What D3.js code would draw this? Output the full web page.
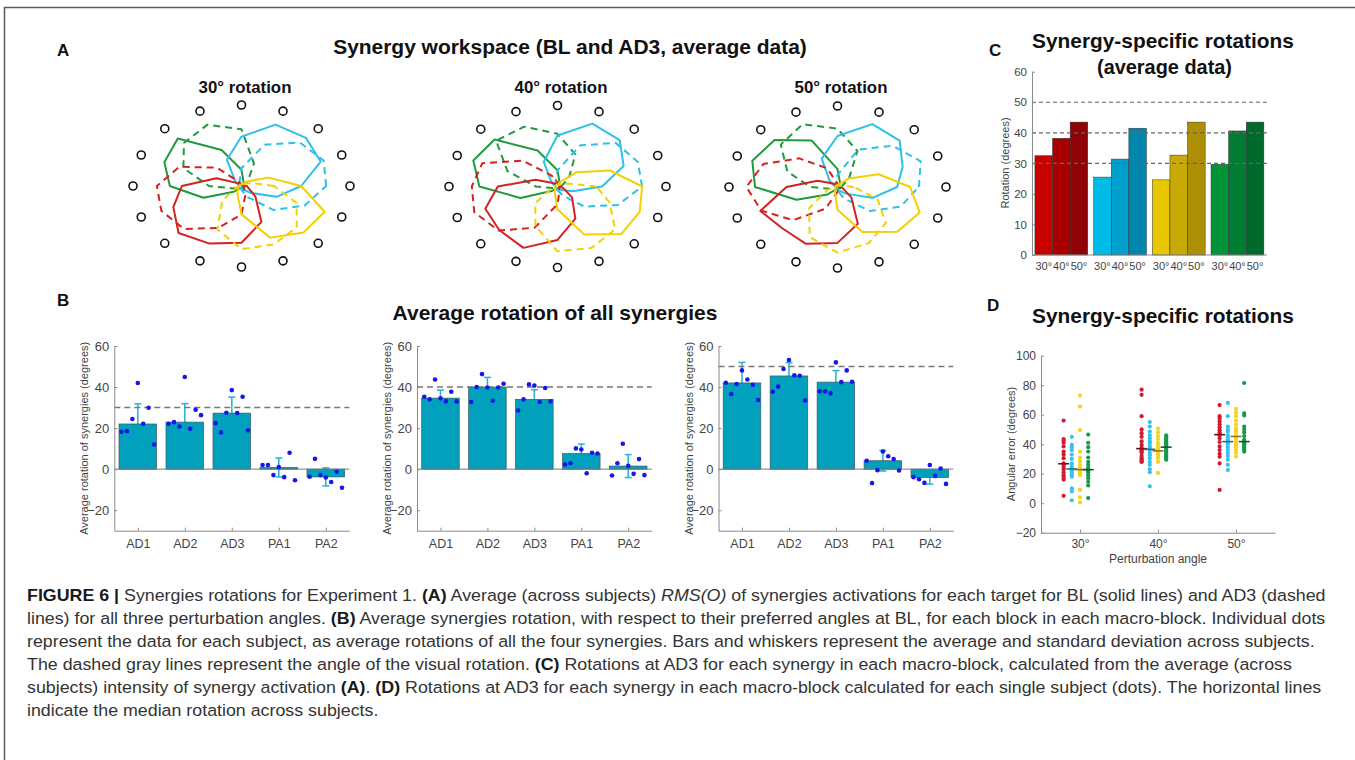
<!DOCTYPE html>
<html><head><meta charset="utf-8">
<script src="https://cdn.jsdelivr.net/npm/d3@7"></script>
<style>
body{margin:0;background:#fff}
svg{display:block}
text{font-family:"Liberation Sans",Arial,Helvetica,sans-serif}
</style>
</head><body>
<svg id="fig" width="1355" height="760"></svg>
<script>
// ---------------- DATA ----------------
// Panel A: radial activation at the 16 targets (angles in degrees, counter-clockwise from right)
const targetAngles = [0,22.5,45,67.5,90,112.5,135,157.5,180,202.5,225,247.5,270,292.5,315,337.5];
const synergyNames = ["green","cyan","red","yellow"];
// 30 deg
const bl30Green  = [0.03,0.02,0.02,0.05,0.20,0.48,0.83,0.77,0.66,0.38,0.10,0.03,0.02,0.02,0.02,0.03];
const bl30Cyan   = [0.55,0.79,0.84,0.82,0.61,0.35,0.08,0.03,0.02,0.02,0.02,0.02,0.03,0.05,0.12,0.35];
const bl30Red    = [0.05,0.02,0.02,0.02,0.02,0.02,0.05,0.25,0.55,0.68,0.82,0.77,0.70,0.48,0.18,0.07];
const bl30Yellow = [0.55,0.27,0.08,0.03,0.02,0.02,0.02,0.02,0.02,0.03,0.04,0.10,0.35,0.69,0.81,0.83];
const ad30Green  = [0.03,0.02,0.08,0.30,0.70,0.82,0.75,0.58,0.30,0.08,0.03,0.02,0.02,0.02,0.02,0.02];
const ad30Cyan   = [0.78,0.82,0.76,0.55,0.22,0.05,0.02,0.02,0.02,0.02,0.02,0.02,0.05,0.15,0.42,0.63];
const ad30Red    = [0.02,0.02,0.02,0.02,0.02,0.05,0.32,0.62,0.78,0.80,0.75,0.56,0.35,0.10,0.03,0.02];
const ad30Yellow = [0.30,0.10,0.03,0.02,0.02,0.02,0.02,0.02,0.02,0.05,0.25,0.58,0.78,0.78,0.72,0.55];
// 40 deg
const bl40Green  = [0.03,0.02,0.02,0.05,0.20,0.48,0.82,0.84,0.72,0.37,0.08,0.03,0.02,0.02,0.02,0.03];
const bl40Cyan   = [0.41,0.66,0.81,0.84,0.63,0.33,0.08,0.03,0.02,0.02,0.02,0.02,0.03,0.04,0.06,0.15];
const bl40Red    = [0.03,0.02,0.02,0.02,0.02,0.03,0.06,0.22,0.55,0.72,0.76,0.82,0.66,0.43,0.19,0.06];
const bl40Yellow = [0.78,0.52,0.25,0.06,0.02,0.02,0.02,0.02,0.02,0.02,0.03,0.07,0.28,0.64,0.83,0.82];
const ad40Green  = [0.03,0.05,0.15,0.43,0.65,0.80,0.80,0.50,0.20,0.05,0.02,0.02,0.02,0.02,0.02,0.02];
const ad40Cyan   = [0.78,0.80,0.76,0.55,0.20,0.05,0.02,0.02,0.02,0.02,0.02,0.02,0.04,0.12,0.35,0.60];
const ad40Red    = [0.02,0.02,0.02,0.03,0.05,0.15,0.45,0.75,0.79,0.83,0.77,0.55,0.22,0.05,0.02,0.02];
const ad40Yellow = [0.36,0.10,0.03,0.02,0.02,0.02,0.02,0.02,0.03,0.06,0.29,0.53,0.80,0.82,0.75,0.52];
// 50 deg
const bl50Green  = [0.03,0.02,0.02,0.06,0.22,0.62,0.82,0.85,0.76,0.41,0.13,0.03,0.02,0.02,0.02,0.03];
const bl50Cyan   = [0.55,0.65,0.81,0.84,0.63,0.38,0.10,0.03,0.02,0.02,0.02,0.02,0.03,0.05,0.12,0.35];
const bl50Red    = [0.03,0.02,0.02,0.02,0.02,0.03,0.06,0.20,0.47,0.77,0.72,0.76,0.69,0.49,0.18,0.06];
const bl50Yellow = [0.67,0.41,0.15,0.04,0.02,0.02,0.02,0.02,0.02,0.02,0.03,0.06,0.28,0.60,0.78,0.82];
const ad50Green  = [0.03,0.05,0.15,0.48,0.72,0.84,0.74,0.50,0.25,0.06,0.02,0.02,0.02,0.02,0.02,0.02];
const ad50Cyan   = [0.75,0.83,0.72,0.50,0.15,0.04,0.02,0.02,0.02,0.02,0.02,0.02,0.04,0.15,0.42,0.63];
const ad50Red    = [0.02,0.02,0.02,0.02,0.04,0.25,0.50,0.74,0.84,0.76,0.58,0.29,0.06,0.02,0.02,0.02];
const ad50Yellow = [0.15,0.04,0.02,0.02,0.02,0.02,0.02,0.02,0.03,0.10,0.37,0.67,0.81,0.75,0.63,0.40];
const polarTitles = ["30° rotation","40° rotation","50° rotation"];

// Panel B
const blockNames = ["AD1","AD2","AD3","PA1","PA2"];
const bRefAngles = [30,40,50];
const bMean30 = [22.0,22.9,27.3,0.8,-3.8];
const bSd30   = [9.8,9.0,7.8,4.6,4.4];
const bDots30 = [[18.2,18.5,24.4,42.0,22.1,29.9,12.0],[22.1,22.9,20.8,44.9,19.7,28.9,26.3],[22.4,17.9,27.5,38.5,27.3,35.3,18.9],[2.0,2.0,-2.9,1.0,-3.9,8.0,-5.4],[-3.7,5.0,-2.9,-4.1,-6.3,-1.3,-9.1]];
const bMean40 = [34.6,40.0,34.0,7.6,1.5];
const bSd40   = [3.9,4.7,4.7,4.6,5.6];
const bDots40 = [[35.3,34.0,43.7,34.5,33.0,37.7,33.0],[32.7,40.0,46.3,39.8,33.3,39.8,41.6],[28.6,34.0,41.3,40.7,32.7,39.5,33.0],[2.3,2.9,10.1,9.6,-2.0,8.0,7.6],[-3.1,2.9,12.4,1.6,-2.3,4.9,-2.9]];
const bMean50 = [42.0,45.4,42.4,4.1,-4.1];
const bSd50   = [10.0,6.5,5.6,5.0,3.2];
const bDots50 = [[42.1,36.6,41.5,48.1,43.7,41.1,33.7],[37.7,40.2,48.8,53.2,45.7,45.5,33.5],[37.9,37.9,36.9,52.0,42.4,48.1,42.6],[4.1,-6.8,-0.5,8.6,6.3,4.9,-0.7],[-3.9,-4.9,-6.7,2.0,-3.3,0.3,-7.2]];
const subjectOffsets = [-0.345,-0.23,-0.115,0,0.115,0.23,0.345];

// Panel C
const cAngleLabels = ["30°","40°","50°"];
const cRed    = [32.5,38.2,43.5];
const cCyan   = [25.5,31.4,41.5];
const cYellow = [24.6,32.7,43.5];
const cGreen  = [29.7,40.6,43.5];
const cRefLines = [30,40,50];

// Panel D
const dAngleLabels = ["30°","40°","50°"];
const dRed30    = [56,43.5,42.5,41,38.5,35,33,30.5,26.5,27,26,24.5,23,21,19,17.5,16,5];
const dCyan30   = [45,39.5,38,36,33,30,27,25,23.5,23,22.5,21.5,20,19,18,10,8,2];
const dYellow30 = [73,65.5,49.5,35,31,28.5,26,24,23,22.5,22,21.5,21,20,19,9,4,0.5];
const dGreen30  = [46.5,41,38,35,31,28,26,24,23,22.5,22,21.5,21,19,17,14.5,12,3.5];
const dRed40    = [77,73.5,59,50,47.5,45,42,39.5,37.5,36.5,35.5,35,34,32,30.5,29.5,28.5,28];
const dCyan40   = [55,52,48.5,46,44,42,40.5,38.5,37,36,34,32.5,30.5,28,26,23,21,11.5];
const dYellow40 = [50.5,48,45.5,43.5,41,39,37.5,36,35.5,35,34.5,34,33,32,30.5,28,20.5];
const dGreen40  = [46,45,44,43,42,41,40,39.5,38.5,38,37,36,35,34,33,32,31,30,29.5];
const dRed50    = [66.5,59,57.5,55.5,53.5,51.5,49.5,48,47,46,44,41.5,38.5,36,33.5,31.5,27,9];
const dCyan50   = [68,59,52,50,48.5,46,44.5,43,42,41.5,40,38,36,34,32,29.5,26,22.5];
const dYellow50 = [64,61.5,59,56,53.5,51,49.5,48,45.5,45,44,43,41,39.5,38,36,34,31.5];
const dGreen50  = [81.5,61,59.5,52,50,48,45.5,43,42,41.5,41,40.5,40,39,38,37,36,35];
const dSynergyOffsets = [-0.21,-0.105,0,0.105];

// ---------------- DRAW ----------------
const svg = d3.select("#fig");
svg.append("rect").attr("width",1355).attr("height",760).attr("fill","#fff");
svg.append("path").attr("d","M4.5,760V7.5H1355").attr("fill","none").attr("stroke","#5a5a5a").attr("stroke-width",1.5);

const FONT = '"Liberation Sans",Arial,Helvetica,sans-serif';
function fitText(t, target){ // scale horizontally so width equals target
  const w = t.node().getComputedTextLength();
  return target / w;
}
function title(txt, cx, y, size, targetW){
  const t = svg.append("text").attr("text-anchor","middle").attr("font-weight","bold")
    .attr("font-size",size).attr("fill","#111").text(txt);
  const k = targetW ? fitText(t,targetW) : 1;
  t.attr("transform",`translate(${cx},${y}) scale(${k},1)`);
  return t;
}
function panelLabel(txt,x,y){
  svg.append("text").attr("x",x).attr("y",y).attr("font-weight","bold").attr("font-size",17).attr("fill","#111").text(txt);
}

// ---- Panel A ----
panelLabel("A",57,56);
title("Synergy workspace (BL and AD3, average data)",570,54,20,474);
const colA = {green:"#1f9a3e",cyan:"#2dc0ea",red:"#d42222",yellow:"#f4d000"};
const polarPanels = [
  {cx:241.5,cy:186,bl:[bl30Green,bl30Cyan,bl30Red,bl30Yellow],ad:[ad30Green,ad30Cyan,ad30Red,ad30Yellow]},
  {cx:557.5,cy:186.5,bl:[bl40Green,bl40Cyan,bl40Red,bl40Yellow],ad:[ad40Green,ad40Cyan,ad40Red,ad40Yellow]},
  {cx:837.5,cy:187,bl:[bl50Green,bl50Cyan,bl50Red,bl50Yellow],ad:[ad50Green,ad50Cyan,ad50Red,ad50Yellow]}
];
const rxA = 108.5, ryA = 81;
polarPanels.forEach((p,pi)=>{
  const xs = d3.scaleLinear().domain([-1,1]).range([p.cx-rxA,p.cx+rxA]);
  const ys = d3.scaleLinear().domain([-1,1]).range([p.cy+ryA,p.cy-ryA]);
  const rad = a => a*Math.PI/180;
  const line = d3.line()
    .x(d=>xs(d.r*Math.cos(rad(d.a)))).y(d=>ys(d.r*Math.sin(rad(d.a))))
    .curve(d3.curveLinearClosed);
  const g = svg.append("g");
  title(polarTitles[pi], p.cx+3.5, 93, 17, 93);
  synergyNames.forEach((s,si)=>{
    const blPts = p.bl[si].map((r,i)=>({r,a:targetAngles[i]}));
    const adPts = p.ad[si].map((r,i)=>({r,a:targetAngles[i]}));
    g.append("path").attr("d",line(adPts)).attr("fill","none").attr("stroke",colA[s])
      .attr("stroke-width",2).attr("stroke-dasharray","7,5").attr("stroke-linejoin","round");
    g.append("path").attr("d",line(blPts)).attr("fill","none").attr("stroke",colA[s])
      .attr("stroke-width",2).attr("stroke-linejoin","round");
  });
  g.selectAll("circle.t").data(targetAngles).join("circle").attr("class","t")
    .attr("cx",a=>xs(Math.cos(rad(a)))).attr("cy",a=>ys(Math.sin(rad(a))))
    .attr("r",4).attr("fill","none").attr("stroke","#111").attr("stroke-width",1.6);
});

// ---- Panel B ----
panelLabel("B",57,306);
title("Average rotation of all synergies",555,320,20,325);
const bLayout = [{x0:114.3,x1:349.3,lab:85},{x0:417,x1:651.7,lab:388},{x0:718.5,x1:953.3,lab:690}];
const bSets = [{m:bMean30,sd:bSd30,dots:bDots30},{m:bMean40,sd:bSd40,dots:bDots40},{m:bMean50,sd:bSd50,dots:bDots50}];
const yB = d3.scaleLinear().domain([-30,60]).range([530.7,346]);
const axisCol = "#8a8a8a", tickCol = "#444";
function styleAxis(g,size){
  g.select(".domain").attr("stroke",axisCol).attr("stroke-width",1);
  g.selectAll(".tick line").attr("stroke",axisCol);
  g.selectAll(".tick text").attr("fill",tickCol).attr("font-size",size).attr("font-family",FONT);
}
bSets.forEach((s,k)=>{
  const L = bLayout[k];
  const x = d3.scaleLinear().domain([0.5,5.5]).range([L.x0,L.x1]);
  const g = svg.append("g");
  const bw = x(1.4)-x(0.6);
  // error bars (behind bars)
  s.m.forEach((m,i)=>{
    const cx = x(i+1);
    const eg = g.append("g").attr("stroke","#2fb6d6").attr("stroke-width",1.6);
    eg.append("line").attr("x1",cx).attr("x2",cx).attr("y1",yB(m-s.sd[i])).attr("y2",yB(m+s.sd[i]));
    eg.append("line").attr("x1",cx-3.5).attr("x2",cx+3.5).attr("y1",yB(m+s.sd[i])).attr("y2",yB(m+s.sd[i]));
    eg.append("line").attr("x1",cx-3.5).attr("x2",cx+3.5).attr("y1",yB(m-s.sd[i])).attr("y2",yB(m-s.sd[i]));
  });
  g.selectAll("rect.bar").data(s.m).join("rect").attr("class","bar")
    .attr("x",(d,i)=>x(i+1)-bw/2).attr("width",bw)
    .attr("y",d=>yB(Math.max(0,d))).attr("height",d=>Math.abs(yB(d)-yB(0)))
    .attr("fill","#01a0bd").attr("stroke","#3b5a62").attr("stroke-width",0.7);
  // baseline
  g.append("line").attr("x1",L.x0).attr("x2",L.x1).attr("y1",yB(0)).attr("y2",yB(0)).attr("stroke","#7a7a7a").attr("stroke-width",1);
  // reference dashed
  g.append("line").attr("x1",L.x0).attr("x2",L.x1).attr("y1",yB(bRefAngles[k])).attr("y2",yB(bRefAngles[k]))
    .attr("stroke","#777").attr("stroke-width",1.4).attr("stroke-dasharray","6,4");
  // dots
  s.dots.forEach((arr,i)=>{
    g.selectAll(null).data(arr).join("circle")
      .attr("cx",(d,j)=>x(i+1+subjectOffsets[j])).attr("cy",d=>yB(d)).attr("r",2.3).attr("fill","#1717e6");
  });
  // axes
  const ya = g.append("g").attr("transform",`translate(${L.x0},0)`)
    .call(d3.axisLeft(yB).tickValues([-20,0,20,40,60]).tickSizeInner(-3).tickSizeOuter(0).tickPadding(5));
  styleAxis(ya,13);
  const xa = g.append("g").attr("transform",`translate(0,${yB(-30)})`)
    .call(d3.axisBottom(x).tickValues([1,2,3,4,5]).tickFormat(i=>blockNames[i-1]).tickSizeInner(-3).tickSizeOuter(0).tickPadding(8));
  styleAxis(xa,12.5);
  g.append("text").attr("transform",`translate(${L.lab},${(yB(60)+yB(-30))/2}) rotate(-90)`)
    .attr("text-anchor","middle").attr("dominant-baseline","middle").attr("font-size",11).attr("fill","#444")
    .text("Average rotation of synergies (degrees)");
});

// ---- Panel C ----
panelLabel("C",989,56);
title("Synergy-specific rotations",1163,48,20,262);
title("(average data)",1164.5,74,20,135);
const xC = d3.scaleLinear().domain([0.5,4.5]).range([1032,1266.8]);
const yC = d3.scaleLinear().domain([0,60]).range([255,71.7]);
const cSeries = [cRed,cCyan,cYellow,cGreen];
const cColors = [["#c70000","#a80000","#8f0306"],["#00bbe6","#00a0cc","#0085ad"],["#e8c600","#c9a906","#ad9005"],["#009438","#007d33","#006a2c"]];
const cOff = [-0.3,0,0.3];
const gC = svg.append("g");
cSeries.forEach((vals,gi)=>{
  vals.forEach((v,bi)=>{
    const xc = xC(gi+1+cOff[bi]);
    const w = xC(1.3)-xC(1.0);
    gC.append("rect").attr("x",xc-w/2).attr("width",w).attr("y",yC(v)).attr("height",yC(0)-yC(v))
      .attr("fill",cColors[gi][bi]).attr("stroke","#333").attr("stroke-width",0.5);
    gC.append("text").attr("x",xc).attr("y",270).attr("text-anchor","middle").attr("font-size",11)
      .attr("fill",tickCol).text(cAngleLabels[bi]);
  });
});
cRefLines.forEach(r=>{
  gC.append("line").attr("x1",xC(0.5)).attr("x2",xC(4.5)).attr("y1",yC(r)).attr("y2",yC(r))
    .attr("stroke","#666").attr("stroke-width",1.2).attr("stroke-dasharray","4,3");
});
const yaC = gC.append("g").attr("transform",`translate(${xC(0.5)},0)`)
  .call(d3.axisLeft(yC).tickValues([0,10,20,30,40,50,60]).tickSizeInner(-3).tickSizeOuter(0).tickPadding(5));
styleAxis(yaC,11.5);
gC.append("line").attr("x1",xC(0.5)).attr("x2",xC(4.5)).attr("y1",yC(0)).attr("y2",yC(0)).attr("stroke",axisCol);
gC.append("text").attr("transform",`translate(1006,163) rotate(-90)`).attr("text-anchor","middle")
  .attr("dominant-baseline","middle").attr("font-size",11).attr("fill","#444").text("Rotation (degrees)");

// ---- Panel D ----
panelLabel("D",987,311);
title("Synergy-specific rotations",1163,323,20,262);
const xD = d3.scaleLinear().domain([0.5,3.5]).range([1041,1275]);
const yD = d3.scaleLinear().domain([-20,100]).range([532.7,355.7]);
const dSets = [[dRed30,dCyan30,dYellow30,dGreen30],[dRed40,dCyan40,dYellow40,dGreen40],[dRed50,dCyan50,dYellow50,dGreen50]];
const dColors = ["#d21a30","#33c3ef","#f6d321","#17994a"];
const gD = svg.append("g");
dSets.forEach((grp,ai)=>{
  grp.forEach((vals,si)=>{
    const xc = xD(ai+1+dSynergyOffsets[si]);
    gD.selectAll(null).data(vals).join("circle").attr("cx",xc).attr("cy",d=>yD(d)).attr("r",2.1).attr("fill",dColors[si]);
    const med = d3.median(vals);
    gD.append("line").attr("x1",xc-5.5).attr("x2",xc+5.5).attr("y1",yD(med)).attr("y2",yD(med))
      .attr("stroke",d3.color(dColors[si]).darker(1.6)).attr("stroke-width",1.6);
  });
});
const yaD = gD.append("g").attr("transform",`translate(${xD(0.5)},0)`)
  .call(d3.axisLeft(yD).tickValues([-20,0,20,40,60,80,100]).tickSizeInner(-3).tickSizeOuter(0).tickPadding(5));
styleAxis(yaD,12);
const xaD = gD.append("g").attr("transform",`translate(0,${yD(-20)})`)
  .call(d3.axisBottom(xD).tickValues([1,2,3]).tickFormat(i=>dAngleLabels[i-1]).tickSizeInner(-3).tickSizeOuter(0).tickPadding(7));
styleAxis(xaD,12);
gD.append("text").attr("x",1158).attr("y",563).attr("text-anchor","middle").attr("font-size",12).attr("fill","#444").text("Perturbation angle");
gD.append("text").attr("transform",`translate(1012,444) rotate(-90)`).attr("text-anchor","middle")
  .attr("dominant-baseline","middle").attr("font-size",11).attr("fill","#444").text("Angular error (degrees)");

// ---- Caption ----
const captionLines = [
  [["b","FIGURE 6 | "],["n","Synergies rotations for Experiment 1. "],["b","(A)"],["n"," Average (across subjects) "],["i","RMS(O)"],["n"," of synergies activations for each target for BL (solid lines) and AD3 (dashed"]],
  [["n","lines) for all three perturbation angles. "],["b","(B)"],["n"," Average synergies rotation, with respect to their preferred angles at BL, for each block in each macro-block. Individual dots"]],
  [["n","represent the data for each subject, as average rotations of all the four synergies. Bars and whiskers represent the average and standard deviation across subjects."]],
  [["n","The dashed gray lines represent the angle of the visual rotation. "],["b","(C)"],["n"," Rotations at AD3 for each synergy in each macro-block, calculated from the average (across"]],
  [["n","subjects) intensity of synergy activation "],["b","(A)"],["n",". "],["b","(D)"],["n"," Rotations at AD3 for each synergy in each macro-block calculated for each single subject (dots). The horizontal lines"]],
  [["n","indicate the median rotation across subjects."]]
];
let capScale = null;
captionLines.forEach((segs,li)=>{
  const t = svg.append("text").attr("font-size",16.5).attr("fill","#333").attr("xml:space","preserve");
  segs.forEach(([st,txt])=>{
    const ts = t.append("tspan").text(txt);
    if(st==="b") ts.attr("font-weight","bold").attr("fill","#1a1a1a");
    if(st==="i") ts.attr("font-style","italic");
  });
  if(capScale===null) capScale = fitText(t,1300);
  t.attr("transform",`translate(27,${601+23*li}) scale(${capScale},1)`);
});
</script>
</body></html>
